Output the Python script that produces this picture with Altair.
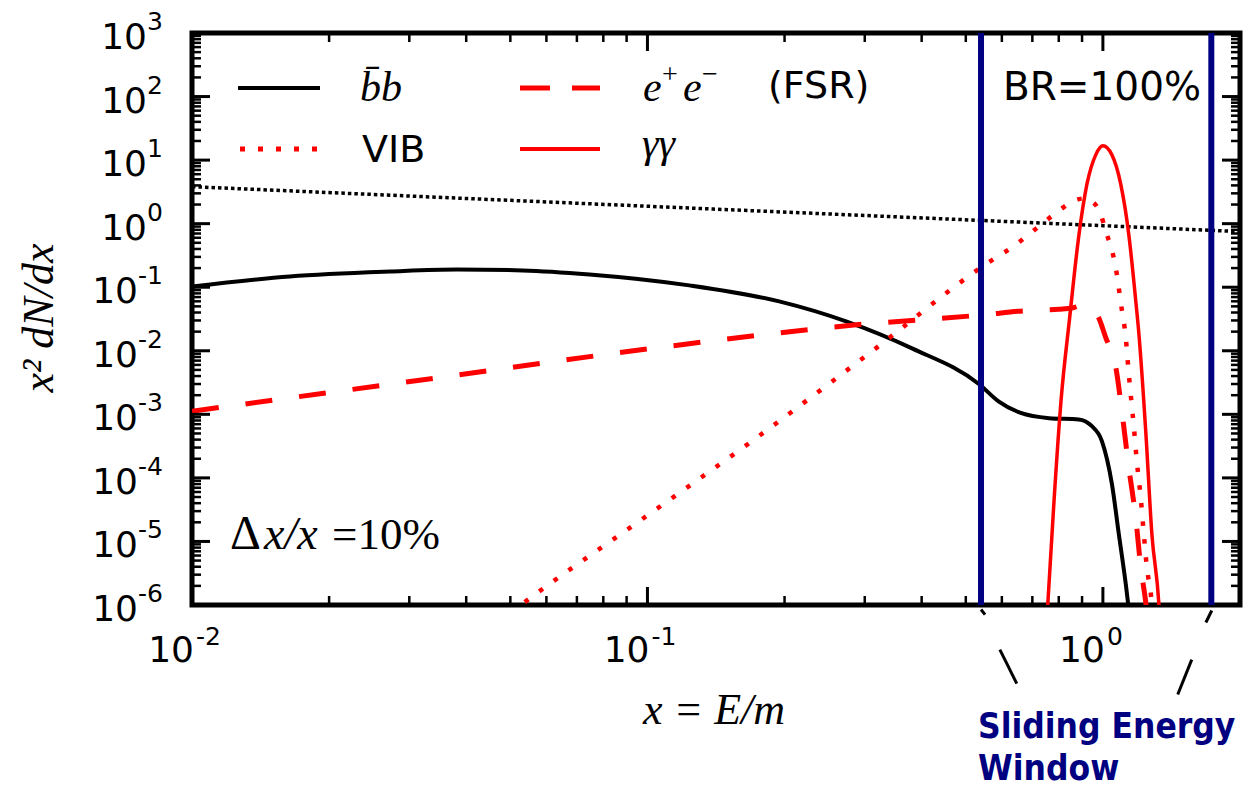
import altair as alt
import pandas as pd

# ---------------- data ----------------
ref_x = [0.01, 0.1, 1.0, 2.0]
ref_y = [3.82, 1.88, 0.93, 0.75]

bb_x = [0.01, 0.0164, 0.0272, 0.0381, 0.0532, 0.0746, 0.1236, 0.1946, 0.273, 0.381,
        0.535, 0.59, 0.66, 0.762, 0.885, 0.946, 0.995, 1.047, 1.084, 1.123, 1.15]
bb_y = [0.103, 0.148, 0.177, 0.190, 0.184, 0.159, 0.107, 0.0598, 0.029, 0.0109,
        0.00298, 0.0016, 0.00105, 0.00087, 0.00083, 0.00065, 0.00038, 7.9e-5, 1.3e-5, 2.1e-6, 5e-7]

fsr_x = [0.01, 0.0316, 0.1117, 0.277, 0.56, 0.65, 0.80, 0.855, 0.90, 0.97,
         1.015, 1.068, 1.101, 1.14, 1.181, 1.211, 1.243, 1.26]
fsr_y = [1.12e-3, 3.44e-3, 0.0118, 0.025, 0.0374, 0.0417, 0.045, 0.047, 0.052, 0.037,
         0.016, 0.0054, 0.0011, 1.45e-4, 2.3e-5, 3.9e-6, 1.05e-6, 4e-7]

vib_x = [0.05, 0.0532, 0.0961, 0.173, 0.311, 0.553, 0.644, 0.695, 0.801, 0.864, 0.915,
         0.941, 0.99, 1.015, 1.046, 1.068, 1.095, 1.123, 1.14, 1.17, 1.187, 1.211, 1.23,
         1.249, 1.274, 1.29]
vib_y = [7.5e-7, 1.05e-6, 2.1e-5, 4.2e-4, 9.8e-3, 0.23, 0.47, 0.72, 1.6, 2.3, 2.5,
         2.3, 1.39, 0.75, 0.39, 0.197, 0.056, 0.0157, 0.0043, 6.1e-4, 1.84e-4, 4.8e-5, 1.3e-5,
         3.9e-6, 1.5e-6, 6e-7]

gg_x = [0.752, 0.757, 0.781, 0.809, 0.846, 0.886, 0.922, 0.965, 1.0, 1.046, 1.095,
        1.14, 1.181, 1.20, 1.243, 1.281, 1.327, 1.335]
gg_y = [5e-7, 1.05e-6, 4.3e-5, 1.6e-3, 0.035, 0.67, 4.1, 12.2, 16.8, 12.2, 4.1,
        0.67, 0.06, 0.018, 4.9e-4, 1.3e-5, 1.05e-6, 5e-7]

window_x = [0.54, 1.73]

# annotation strokes under the axis (data coordinates)
ann_x = [0.540, 0.594, 1.734, 1.567]
ann_x2 = [0.551, 0.647, 1.683, 1.460]
ann_y = [8.5e-7, 1.99e-7, 8.2e-7, 1.38e-7]
ann_y2 = [7.05e-7, 5.8e-8, 5.3e-7, 3.9e-8]

y_tick_vals = [1e-6, 1e-5, 1e-4, 1e-3, 1e-2, 1e-1, 1e0, 1e1, 1e2, 1e3]
y_tick_exps = ["-6", "-5", "-4", "-3", "-2", "-1", "0", "1", "2", "3"]
y_minor_vals = [k * 10.0 ** e for e in range(-6, 3) for k in range(2, 10)]
x_tick_vals = [0.01, 0.1, 1.0]
x_tick_exps = ["-2", "-1", "0"]
x_minor_vals = [k * 10.0 ** e for e in (-2, -1) for k in range(2, 10)] + [2.0]

W, H = 1048, 572
RED = "#ff0000"
NAVY = "#000080"
SANS = "DejaVu Sans"
SERIF = "Liberation Serif"

xs = alt.Scale(type="log", domain=[0.01, 2], nice=False)
ys = alt.Scale(type="log", domain=[1e-6, 1e3], nice=False)
X = alt.X("x:Q", scale=xs, axis=None)
Y = alt.Y("y:Q", scale=ys, axis=None)


def curve(xv, yv, color, width, dash=None):
    kw = dict(color=color, strokeWidth=width, clip=True, interpolate="monotone",
              strokeJoin="round")
    if dash:
        kw["strokeDash"] = dash
    return alt.Chart(pd.DataFrame({"x": xv, "y": yv})).mark_line(**kw).encode(x=X, y=Y)


layers = []
layers.append(curve(ref_x, ref_y, "black", 3.5, [3.5, 3]))
layers.append(curve(bb_x, bb_y, "black", 4))
layers.append(curve(fsr_x, fsr_y, RED, 5, [27, 27]))
layers.append(curve(vib_x, vib_y, RED, 4.5, [4.5, 13.5]))
layers.append(curve(gg_x, gg_y, RED, 3.5))

# sliding window lines
layers.append(alt.Chart(pd.DataFrame({"x": window_x})).mark_rule(color=NAVY, strokeWidth=6).encode(
    x=X, y=alt.value(0), y2=alt.value(H)))

# annotation strokes
ann = pd.DataFrame({"x": ann_x, "x2": ann_x2, "y": ann_y, "y2": ann_y2})
layers.append(alt.Chart(ann).mark_rule(color="black", strokeWidth=3).encode(
    x=X, x2="x2:Q", y=Y, y2="y2:Q"))

# ticks (inward, all four sides)
ymaj = pd.DataFrame({"y": y_tick_vals, "e": y_tick_exps})
ymin = pd.DataFrame({"y": y_minor_vals})
xmaj = pd.DataFrame({"x": x_tick_vals, "e": x_tick_exps})
xmin = pd.DataFrame({"x": x_minor_vals})
for df, ln, sw in ((ymaj, 18, 3), (ymin, 9, 2.5)):
    layers.append(alt.Chart(df).mark_rule(color="black", strokeWidth=sw).encode(
        y=Y, x=alt.value(0), x2=alt.value(ln)))
    layers.append(alt.Chart(df).mark_rule(color="black", strokeWidth=sw).encode(
        y=Y, x=alt.value(W), x2=alt.value(W - ln)))
for df, ln, sw in ((xmaj, 18, 3), (xmin, 9, 2.5)):
    layers.append(alt.Chart(df).mark_rule(color="black", strokeWidth=sw).encode(
        x=X, y=alt.value(H), y2=alt.value(H - ln)))
    layers.append(alt.Chart(df).mark_rule(color="black", strokeWidth=sw).encode(
        x=X, y=alt.value(0), y2=alt.value(ln)))

# y tick labels: "10" + exponent
layers.append(alt.Chart(ymaj).transform_filter("indexof(datum.e, '-') >= 0").mark_text(
    text="10", align="right", baseline="alphabetic", dy=16, font=SANS, fontSize=36).encode(
    y=Y, x=alt.value(-54)))
layers.append(alt.Chart(ymaj).transform_filter("indexof(datum.e, '-') < 0").mark_text(
    text="10", align="right", baseline="alphabetic", dy=16, font=SANS, fontSize=36).encode(
    y=Y, x=alt.value(-45)))
layers.append(alt.Chart(ymaj).mark_text(
    align="right", baseline="alphabetic", dy=-3, font=SANS, fontSize=25).encode(
    y=Y, x=alt.value(-29), text="e:N"))

# x tick labels
layers.append(alt.Chart(xmaj).mark_text(
    text="10", align="right", baseline="alphabetic", dx=2, font=SANS, fontSize=36).encode(
    x=X, y=alt.value(H + 57)))
layers.append(alt.Chart(xmaj).mark_text(
    align="left", baseline="alphabetic", dx=4, font=SANS, fontSize=25).encode(
    x=X, y=alt.value(H + 40), text="e:N"))


def label(txt, px, py, font=SANS, size=38, style="normal", color="black", weight="normal",
          align="left", angle=0):
    kw = dict(text=txt, align=align, baseline="alphabetic", font=font, fontSize=size,
              fontStyle=style, color=color, fontWeight=weight)
    if angle:
        kw["angle"] = angle
    return alt.Chart(pd.DataFrame({"a": [0]})).mark_text(**kw).encode(
        x=alt.value(px), y=alt.value(py))


def legend_line(x1, x2, yy, color, width, dash=None):
    kw = dict(color=color, strokeWidth=width)
    if dash:
        kw["strokeDash"] = dash
    return alt.Chart(pd.DataFrame({"a": [0]})).mark_rule(**kw).encode(
        x=alt.value(x1), x2=alt.value(x2), y=alt.value(yy))


# legend (positions relative to the plot area)
layers.append(legend_line(46, 128, 55, "black", 4))
layers.append(legend_line(48, 128, 116, RED, 5, [5, 13]))
layers.append(legend_line(328, 408, 55, RED, 5, [30, 22]))
layers.append(legend_line(328, 408, 116, RED, 4))
layers.append(label("b\u0304b", 168, 68, font=SERIF, size=42, style="italic"))
layers.append(label("VIB", 170, 129, size=38))
layers.append(label("e", 451, 68, font=SERIF, size=42, style="italic"))
layers.append(label("+", 470, 50, font=SERIF, size=28))
layers.append(label("e", 491, 68, font=SERIF, size=42, style="italic"))
layers.append(label("\u2212", 510, 50, font=SERIF, size=28))
layers.append(label("(FSR)", 576, 65, size=38))
layers.append(label("\u03b3\u03b3", 450, 124, font=SERIF, size=42, style="italic"))

# annotations inside the plot
layers.append(label("BR=100%", 811, 67, size=39))
layers.append(label("\u0394", 38, 516, font=SERIF, size=48))
layers.append(label("x/x", 72, 516, font=SERIF, size=46, style="italic"))
layers.append(label("=10%", 140, 516, font=SERIF, size=45))

# axis titles
layers.append(label("x = E/m", 522, 691, font=SERIF, size=44, style="italic", align="center"))
layers.append(label("x\u00b2  dN/dx", -139, 285, font=SERIF, size=44, style="italic",
                    align="center", angle=270))

# sliding energy window caption
layers.append(label("Sliding Energy", 786, 705, font="DejaVu Sans Condensed", size=35,
                    color=NAVY, weight="bold"))
layers.append(label("Window", 786, 747, font="DejaVu Sans Condensed", size=35,
                    color=NAVY, weight="bold"))

chart = alt.layer(*layers).properties(
    width=W, height=H,
    padding={"left": 184, "top": 25, "right": 3, "bottom": 184},
    autosize=alt.AutoSizeParams(type="none"),
    background="white",
).configure_view(stroke="black", strokeWidth=5)

chart.save("out.html", embed_options={"renderer": "svg", "actions": False})
